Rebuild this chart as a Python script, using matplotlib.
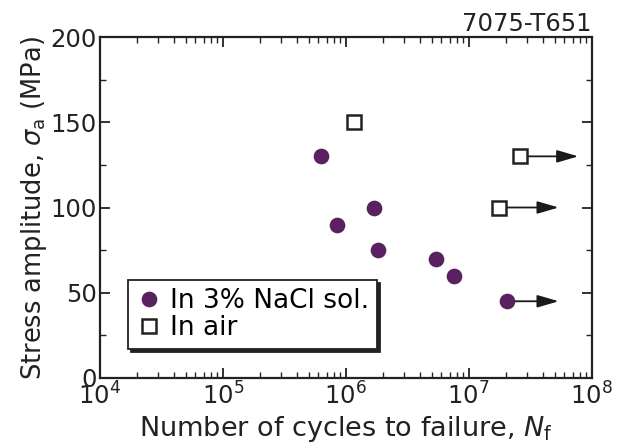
import matplotlib
matplotlib.use('Agg')
import matplotlib.pyplot as plt
from matplotlib.ticker import LogLocator, MultipleLocator, NullFormatter

plt.rcParams['font.family'] = 'DejaVu Sans'
plt.rcParams['mathtext.fontset'] = 'dejavusans'

# In 3% NaCl solution
nacl_cycles = [6.25e5, 8.45e5, 1.69e6, 1.83e6, 5.4e6, 7.55e6, 2.04e7]
nacl_stress = [130, 90, 100, 75, 70, 60, 45]
nacl_arrow_to = [None, None, None, None, None, None, 5.4e7]   # run-out

# In air
air_cycles = [1.16e6, 1.75e7, 2.6e7]
air_stress = [150, 100, 130]
air_arrow_to = [None, 5.4e7, 7.8e7]   # run-out

purple = '#5a2160'
ink = '#222222'

fig = plt.figure(figsize=(6.24, 4.46), dpi=100)
ax = fig.add_axes([0.160, 0.1525, 0.788, 0.7645])

ax.plot(nacl_cycles, nacl_stress, 'o', color=purple, ms=11.3, mec='none',
        label='In 3% NaCl sol.', zorder=3)
ax.plot(air_cycles, air_stress, 's', mfc='white', mec=ink, mew=1.8,
        ms=10, label='In air', zorder=3)

# run-out arrows
for xs, ys, ends in [(nacl_cycles, nacl_stress, nacl_arrow_to),
                     (air_cycles, air_stress, air_arrow_to)]:
    for x, y, end in zip(xs, ys, ends):
        if end is not None:
            ax.annotate('', xy=(end, y), xytext=(x, y),
                        arrowprops=dict(arrowstyle='-|>,head_length=1.3,head_width=0.38',
                                        color='#1a1a1a', lw=1.3, shrinkA=0, shrinkB=0),
                        zorder=2)

ax.set_xscale('log')
ax.set_xlim(1e4, 1e8)
ax.set_ylim(0, 200)
ax.xaxis.set_major_locator(LogLocator(base=10, numticks=10))
ax.xaxis.set_minor_locator(LogLocator(base=10, subs=range(2, 10), numticks=50))
ax.xaxis.set_minor_formatter(NullFormatter())
ax.yaxis.set_major_locator(MultipleLocator(50))
ax.yaxis.set_minor_locator(MultipleLocator(25))

ax.tick_params(which='both', direction='in', top=True, right=True, labelsize=17.5,
               colors=ink)
ax.tick_params(axis='y', pad=2)
ax.tick_params(axis='x', pad=3)
ax.tick_params(which='major', length=7, width=1.3)
ax.tick_params(which='minor', length=4, width=1.0)
for s in ax.spines.values():
    s.set_linewidth(1.6)
    s.set_color(ink)

ax.set_xlabel('Number of cycles to failure, $N_{\\rm f}$', fontsize=19.5,
              color=ink, labelpad=3)
ax.set_ylabel('Stress amplitude, $\\sigma_{\\rm a}$ (MPa)', fontsize=18.5,
              color=ink, labelpad=1)
ax.set_title('7075-T651', loc='right', fontsize=17.5, color=ink, pad=4)

leg = ax.legend(loc='lower left', bbox_to_anchor=(0.057, 0.085), fontsize=19,
                frameon=True, fancybox=False, edgecolor=ink,
                shadow={'color': ink, 'alpha': 1},
                handletextpad=0.3, borderpad=0.3, labelspacing=0.05,
                handlelength=1.0, borderaxespad=0)
leg.get_frame().set_linewidth(1.3)

fig.savefig('out.png', dpi=100)
